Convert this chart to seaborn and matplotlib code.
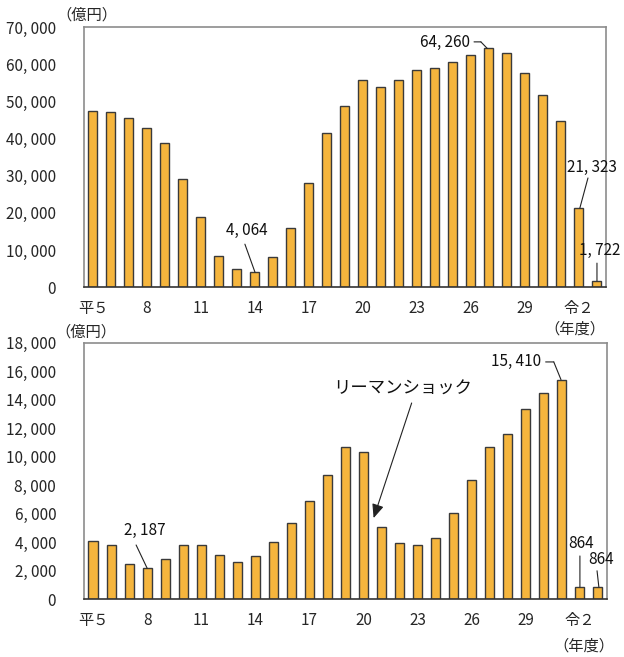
import matplotlib
matplotlib.use("Agg")
import matplotlib.pyplot as plt
import seaborn as sns
import pandas as pd

# Fiscal years 平成5 .. 令和3
years = ["平5", "平6", "平7", "平8", "平9", "平10", "平11", "平12", "平13", "平14",
         "平15", "平16", "平17", "平18", "平19", "平20", "平21", "平22", "平23", "平24",
         "平25", "平26", "平27", "平28", "平29", "平30", "令1", "令2", "令3"]

# Upper panel (億円)
upper_values = [47400, 47100, 45600, 42800, 38900, 29200, 18900, 8500, 4800, 4064,
                8100, 16000, 28000, 41500, 48700, 55700, 53900, 55700, 58500, 59100,
                60600, 62500, 64260, 63000, 57600, 51600, 44800, 21323, 1722]

# Lower panel (億円)
lower_values = [4080, 3800, 2510, 2187, 2860, 3800, 3800, 3090, 2620, 3050,
                4010, 5370, 6910, 8740, 10710, 10310, 5060, 3940, 3800, 4270,
                6050, 8340, 10660, 11600, 13360, 14440, 15410, 864, 864]

tick_positions = [0, 3, 6, 9, 12, 15, 18, 21, 24, 27]
tick_labels = ["平５", "8", "11", "14", "17", "20", "23", "26", "29", "令２"]

upper_ticks = list(range(0, 70001, 10000))
lower_ticks = list(range(0, 18001, 2000))

sns.set_theme(style="white")
plt.rcParams["font.family"] = ["Noto Sans CJK JP", "DejaVu Sans"]

BAR = "#F5B53D"
EDGE = "#3a3a3a"
FS = 11

fig = plt.figure(figsize=(6.24, 6.57), dpi=100)
ax1 = fig.add_axes([0.1346, 0.5627, 0.8365, 0.3962])
ax2 = fig.add_axes([0.1346, 0.0878, 0.8381, 0.3906])

df1 = pd.DataFrame({"year": years, "value": upper_values})
df2 = pd.DataFrame({"year": years, "value": lower_values})


def fmt(v):
    return f"{v:,}".replace(",", ", ")


for ax, df, yt in ((ax1, df1, upper_ticks), (ax2, df2, lower_ticks)):
    sns.barplot(data=df, x="year", y="value", ax=ax, color=BAR, saturation=1,
                width=0.5, edgecolor=EDGE, linewidth=1.0)
    ax.set_xlim(-0.5, len(years) - 0.5)
    ax.set_ylim(yt[0], yt[-1])
    ax.set_yticks(yt)
    ax.set_yticklabels([fmt(v) for v in yt], fontsize=FS)
    ax.set_xticks(tick_positions)
    ax.set_xticklabels(tick_labels, fontsize=FS)
    ax.tick_params(axis="y", length=0, pad=20)
    ax.tick_params(axis="x", length=0, pad=9)
    ax.set_xlabel("")
    ax.set_ylabel("")
    for side in ("left", "top", "right"):
        ax.spines[side].set_color("#8c8c8c")
        ax.spines[side].set_linewidth(1.2)
    ax.spines["bottom"].set_color("#333333")
    ax.spines["bottom"].set_linewidth(1.2)

line_kw = dict(arrowstyle="-", color="#222222", lw=0.8, shrinkA=0, shrinkB=0)
lab_kw = dict(fontsize=FS, color="#111111")


def leader(ax, start, end):
    ax.annotate("", xy=end, xytext=start, arrowprops=line_kw)


# Upper panel labels
ax1.text(8.56, 15400, fmt(upper_values[9]), ha="center", va="center", **lab_kw)
leader(ax1, (8.44, 11600), (9, upper_values[9]))

ax1.text(20.94, 65900, fmt(upper_values[22]), ha="right", va="center", **lab_kw)
leader(ax1, (21.17, 66000), (21.55, 66000))
leader(ax1, (21.55, 66000), (21.9, upper_values[22]))

ax1.text(27.7, 32300, fmt(upper_values[27]), ha="center", va="center", **lab_kw)
leader(ax1, (27.5, 29400), (27.05, upper_values[27]))

ax1.text(28.17, 10000, fmt(upper_values[28]), ha="center", va="center", **lab_kw)
leader(ax1, (28.0, 6500), (28.0, upper_values[28]))

# Lower panel labels
ax2.text(2.89, 4860, fmt(lower_values[3]), ha="center", va="center", **lab_kw)
leader(ax2, (2.39, 3810), (3.0, lower_values[3]))

ax2.text(24.83, 16700, fmt(lower_values[26]), ha="right", va="center", **lab_kw)
leader(ax2, (25.1, 16650), (25.55, 16650))
leader(ax2, (25.55, 16650), (25.95, lower_values[26]))

ax2.text(27.06, 3880, fmt(lower_values[27]), ha="center", va="center", **lab_kw)
leader(ax2, (27.0, 3040), (27.0, lower_values[27]))

ax2.text(28.17, 2760, fmt(lower_values[28]), ha="center", va="center", **lab_kw)
leader(ax2, (27.95, 2000), (28.05, lower_values[28]))

ax2.text(17.17, 14750, "リーマンショック", ha="center", va="center",
         fontsize=12.5, color="#111111")
ax2.annotate("", xy=(15.56, 5700), xytext=(17.67, 13770),
             arrowprops=dict(arrowstyle="-|>,head_length=0.7,head_width=0.3",
                             color="#222222", lw=0.8, shrinkA=0, shrinkB=0))

# Unit labels
fig.text(87 / 624, 1 - 15 / 657, "（億円）", ha="center", va="center", fontsize=FS)
fig.text(86 / 624, 1 - 332 / 657, "（億円）", ha="center", va="center", fontsize=FS)
fig.text(575 / 624, 1 - 329 / 657, "（年度）", ha="center", va="center", fontsize=FS)
fig.text(584 / 624, 1 - 646 / 657, "（年度）", ha="center", va="center", fontsize=FS)

fig.savefig("out.png", dpi=100, facecolor="white")
